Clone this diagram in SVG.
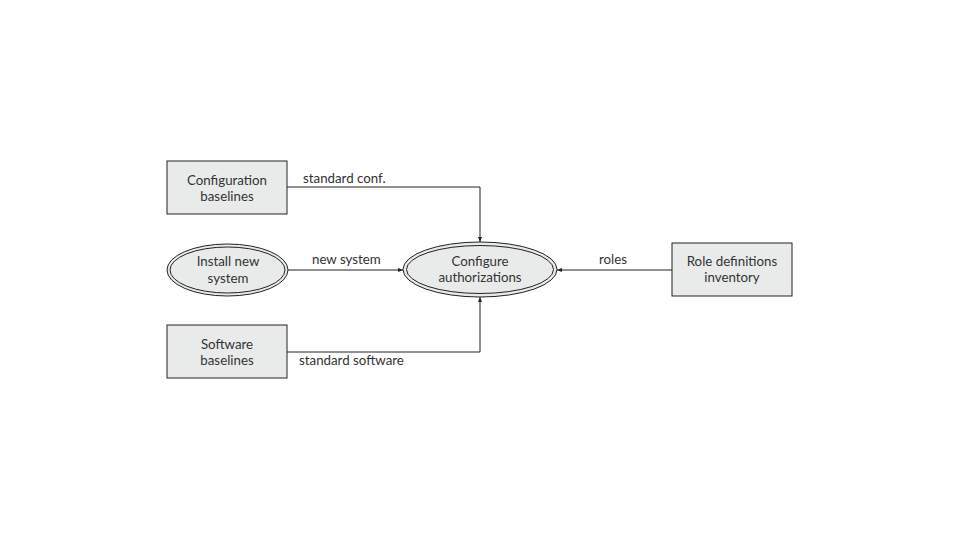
<svg xmlns="http://www.w3.org/2000/svg" width="960" height="540" viewBox="0 0 960 540">
<defs>
<style>
.box{fill:#e9ebeb;stroke:#222;stroke-width:1}
.ell{fill:#e9ebeb;stroke:#222;stroke-width:1}
.ell2{fill:none;stroke:#222;stroke-width:1}
.t{font-family:Lato,"Liberation Sans",sans-serif;font-size:13.3px;fill:#333;text-anchor:middle}
.lbl{font-family:Lato,"Liberation Sans",sans-serif;font-size:13.3px;fill:#333}
.c{fill:none;stroke:#222;stroke-width:1}
</style>
<marker id="arr" viewBox="0 0 10 10" refX="10" refY="5" markerWidth="5" markerHeight="5" orient="auto" markerUnits="userSpaceOnUse">
<path d="M0,1 L10,5 L0,9 z" fill="#222"/>
</marker>
</defs>
<rect width="960" height="540" fill="#fff"/>
<g id="connectors">
<path class="c" d="M287,187 H480 V242" marker-end="url(#arr)"/>
<path class="c" d="M288,270 H403" marker-end="url(#arr)"/>
<path class="c" d="M287,352 H480 V297" marker-end="url(#arr)"/>
<path class="c" d="M672,270 H557" marker-end="url(#arr)"/>
<text class="lbl" x="303" y="183">standard conf.</text>
<text class="lbl" x="312" y="264">new system</text>
<text class="lbl" x="599" y="264">roles</text>
<text class="lbl" x="299" y="365">standard software</text>
</g>
<g id="config-baselines">
<rect class="box" x="167" y="161" width="120" height="53"/>
<text class="t" x="227" y="185">Configuration</text>
<text class="t" x="227" y="201">baselines</text>
</g>
<g id="install-new-system">
<ellipse class="ell" cx="227.5" cy="270" rx="60.5" ry="26"/>
<ellipse class="ell2" cx="227.5" cy="270" rx="57.5" ry="23"/>
<text class="t" x="228" y="266">Install new</text>
<text class="t" x="228" y="283">system</text>
</g>
<g id="configure-authorizations">
<ellipse class="ell" cx="480" cy="269.5" rx="77" ry="27.5"/>
<ellipse class="ell2" cx="480" cy="269.5" rx="73.5" ry="24"/>
<text class="t" x="480" y="266">Configure</text>
<text class="t" x="480" y="282">authorizations</text>
</g>
<g id="software-baselines">
<rect class="box" x="167" y="325" width="120" height="53"/>
<text class="t" x="227" y="349">Software</text>
<text class="t" x="227" y="365">baselines</text>
</g>
<g id="role-definitions">
<rect class="box" x="672" y="243" width="120" height="53"/>
<text class="t" x="732" y="266">Role definitions</text>
<text class="t" x="732" y="282">inventory</text>
</g>
</svg>
